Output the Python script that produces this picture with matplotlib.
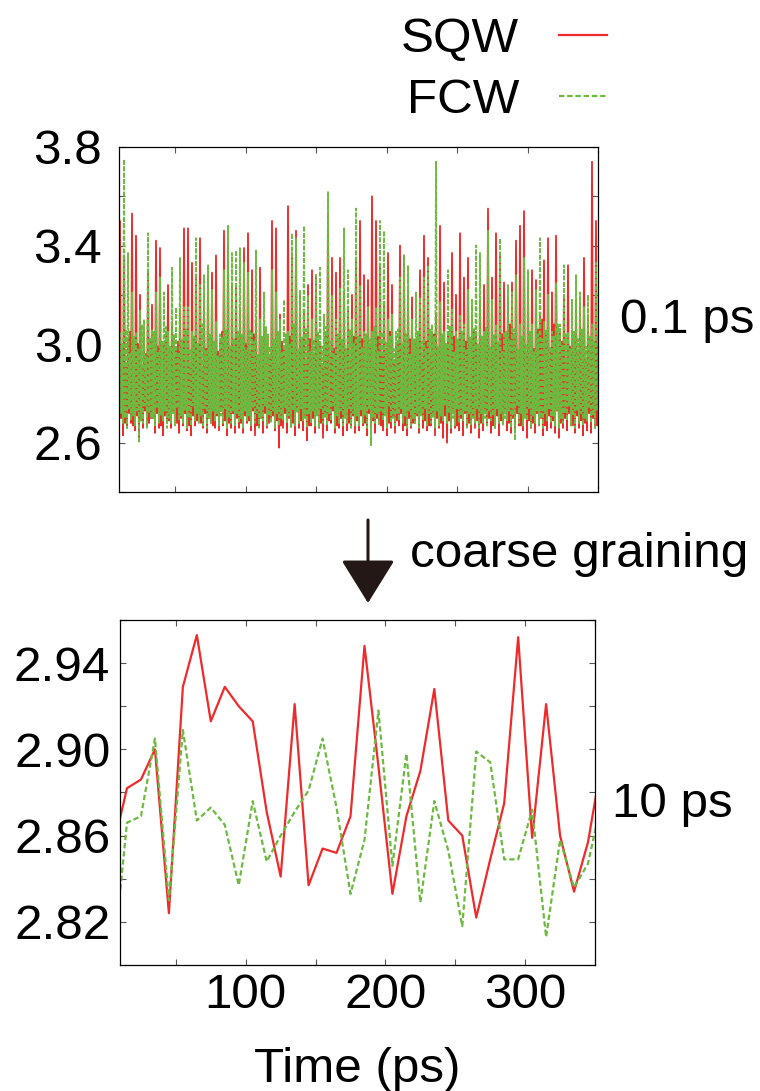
import matplotlib
matplotlib.use("Agg")
import matplotlib.pyplot as plt
import numpy as np
from matplotlib.ticker import MultipleLocator, FixedLocator, NullFormatter

plt.rcParams["font.family"] = ["Liberation Sans", "DejaVu Sans"]

RED = "#ee2a2a"
GREEN = "#6cba3f"
FS = 35.6

# ---- top panel: 0.1 ps data, read slot by slot (~2.8 ps per slot):
# dip, spike top, second dip, band top
red_hi = [3.50, 3.36, 3.02, 3.53, 3.44, 3.20, 3.06, 3.30, 3.16, 3.42, 3.39, 3.00, 3.24, 3.09, 2.98,
          3.14, 3.47, 3.47, 3.33, 3.28, 3.43, 3.21, 3.28, 3.29, 3.36, 3.02, 3.46, 3.40, 3.24, 3.24,
          3.14, 3.39, 3.45, 3.30, 3.10, 3.31, 3.07, 2.99, 3.50, 3.47, 3.12, 2.98, 3.56, 3.37, 3.46,
          3.21, 3.14, 3.24, 3.30, 3.28, 3.00, 2.98, 3.53, 3.35, 3.29, 3.35, 3.21, 3.14, 3.20, 3.35,
          3.50, 3.28, 3.26, 3.60, 3.50, 3.31, 3.17, 3.37, 3.24, 3.00, 3.40, 3.36, 3.22, 3.19, 3.02,
          3.30, 3.44, 3.35, 3.05, 3.12, 3.48, 3.25, 3.05, 3.37, 3.20, 3.45, 3.27, 3.35, 3.12, 3.05,
          3.18, 3.24, 3.55, 3.27, 3.45, 3.37, 3.25, 3.18, 3.25, 3.42, 3.48, 3.54, 3.25, 3.30, 3.26,
          3.12, 3.34, 3.43, 3.21, 3.44, 3.05, 3.20, 3.32, 3.05, 3.17, 3.17, 3.35, 3.10, 3.74, 3.50]
red_lo = [2.64, 2.63, 2.66, 2.68, 2.65, 2.62, 2.66, 2.67, 2.70, 2.64, 2.66, 2.63, 2.68, 2.66, 2.69,
          2.64, 2.67, 2.65, 2.63, 2.67, 2.70, 2.66, 2.64, 2.68, 2.66, 2.65, 2.67, 2.63, 2.66, 2.64,
          2.66, 2.64, 2.68, 2.65, 2.63, 2.67, 2.64, 2.66, 2.69, 2.65, 2.58, 2.66, 2.64, 2.67, 2.63,
          2.66, 2.65, 2.61, 2.67, 2.64, 2.66, 2.62, 2.65, 2.68, 2.64, 2.66, 2.63, 2.65, 2.67, 2.64,
          2.65, 2.67, 2.63, 2.66, 2.64, 2.68, 2.65, 2.63, 2.66, 2.64, 2.67, 2.65, 2.63, 2.66, 2.68,
          2.64, 2.66, 2.65, 2.67, 2.63, 2.66, 2.62, 2.60, 2.64, 2.66, 2.65, 2.63, 2.67, 2.64, 2.66,
          2.62, 2.65, 2.67, 2.64, 2.66, 2.63, 2.68, 2.65, 2.64, 2.66, 2.67, 2.65, 2.62, 2.66, 2.64,
          2.67, 2.63, 2.65, 2.66, 2.64, 2.62, 2.66, 2.65, 2.67, 2.64, 2.66, 2.63, 2.65, 2.64, 2.66]
red_lo2 = [2.70, 2.68, 2.72, 2.67, 2.71, 2.69, 2.73, 2.68, 2.70, 2.72, 2.67, 2.71, 2.69, 2.73, 2.68,
           2.70, 2.72, 2.67, 2.71, 2.69, 2.68, 2.72, 2.70, 2.67, 2.71, 2.73, 2.69, 2.68, 2.72, 2.70,
           2.68, 2.71, 2.69, 2.73, 2.67, 2.70, 2.72, 2.68, 2.71, 2.69, 2.67, 2.72, 2.70, 2.68, 2.73,
           2.69, 2.71, 2.67, 2.70, 2.72, 2.68, 2.71, 2.69, 2.73, 2.67, 2.70, 2.72, 2.68, 2.71, 2.69,
           2.71, 2.68, 2.72, 2.69, 2.70, 2.67, 2.73, 2.68, 2.71, 2.69, 2.72, 2.67, 2.70, 2.68, 2.71,
           2.73, 2.69, 2.67, 2.72, 2.70, 2.68, 2.71, 2.69, 2.73, 2.67, 2.70, 2.72, 2.68, 2.71, 2.69,
           2.68, 2.72, 2.70, 2.67, 2.71, 2.69, 2.73, 2.68, 2.70, 2.72, 2.67, 2.71, 2.69, 2.68, 2.72,
           2.70, 2.67, 2.71, 2.69, 2.73, 2.68, 2.70, 2.72, 2.67, 2.71, 2.69, 2.68, 2.72, 2.70, 2.67]
red_mid = [2.98, 2.92, 3.05, 2.95, 3.00, 2.90, 2.96, 3.02, 2.94, 2.99, 2.91, 3.04, 2.97, 2.93, 3.01,
           2.95, 2.99, 2.92, 3.03, 2.96, 2.90, 2.98, 3.02, 2.94, 2.97, 3.05, 2.93, 2.99, 2.95, 3.01,
           2.93, 3.00, 2.96, 3.04, 2.91, 2.98, 3.02, 2.94, 2.99, 2.92, 3.01, 2.95, 3.03, 2.97, 2.90,
           2.99, 2.93, 3.02, 2.96, 3.00, 2.92, 3.04, 2.95, 2.98, 2.91, 3.01, 2.97, 2.94, 3.03, 2.96,
           3.02, 2.94, 2.99, 2.91, 3.03, 2.96, 2.98, 3.05, 2.93, 3.00, 2.95, 2.92, 3.02, 2.97, 2.99,
           2.94, 3.01, 2.96, 3.04, 2.92, 2.98, 3.00, 2.95, 3.03, 2.93, 2.97, 3.01, 2.94, 3.06, 2.99,
           2.96, 3.02, 2.93, 2.99, 2.95, 3.04, 2.97, 3.08, 3.02, 2.94, 3.00, 2.96, 3.03, 2.98, 3.06,
           3.10, 3.04, 2.97, 3.08, 2.95, 3.01, 2.93, 2.99, 3.02, 2.96, 3.00, 2.94, 3.03, 2.97, 3.00]
green_hi = [3.05, 3.75, 3.37, 3.21, 3.05, 3.14, 3.10, 3.45, 3.06, 3.21, 3.27, 3.21, 3.05, 3.31, 3.15,
            3.35, 3.15, 3.15, 3.05, 3.43, 3.24, 3.28, 3.32, 3.22, 3.09, 3.04, 3.30, 3.48, 3.37, 3.38,
            3.39, 3.33, 3.29, 3.05, 3.38, 3.10, 3.21, 3.04, 3.30, 3.21, 3.10, 3.18, 3.05, 3.45, 3.43,
            3.22, 3.48, 3.20, 3.10, 3.28, 3.31, 3.12, 3.62, 3.20, 3.10, 3.23, 3.47, 3.30, 3.10, 3.55,
            3.24, 3.05, 3.15, 3.05, 3.15, 3.50, 3.46, 3.10, 3.12, 3.05, 3.27, 3.36, 3.32, 3.10, 3.21,
            3.19, 3.27, 3.32, 3.08, 3.74, 3.17, 3.05, 3.30, 3.14, 3.05, 3.12, 3.08, 3.22, 3.18, 3.40,
            3.37, 3.05, 3.46, 3.18, 3.08, 3.43, 3.05, 3.24, 3.21, 3.28, 3.08, 3.35, 3.30, 3.08, 3.22,
            3.43, 3.09, 3.20, 3.05, 3.25, 3.08, 3.32, 3.05, 3.18, 3.28, 3.21, 3.15, 3.20, 3.08, 3.33]
green_lo = [2.67, 2.68, 2.66, 2.69, 2.67, 2.60, 2.68, 2.66, 2.70, 2.67, 2.68, 2.69, 2.66, 2.68, 2.67,
            2.69, 2.68, 2.66, 2.67, 2.69, 2.68, 2.67, 2.66, 2.68, 2.69, 2.67, 2.68, 2.66, 2.68, 2.67,
            2.68, 2.66, 2.69, 2.67, 2.68, 2.66, 2.69, 2.67, 2.68, 2.66, 2.67, 2.69, 2.68, 2.66, 2.67,
            2.68, 2.69, 2.66, 2.68, 2.67, 2.66, 2.68, 2.67, 2.69, 2.66, 2.68, 2.67, 2.68, 2.66, 2.67,
            2.67, 2.68, 2.66, 2.59, 2.68, 2.67, 2.69, 2.66, 2.68, 2.67, 2.69, 2.68, 2.66, 2.67, 2.68,
            2.66, 2.69, 2.67, 2.68, 2.66, 2.67, 2.69, 2.68, 2.66, 2.67, 2.68, 2.69, 2.66, 2.67, 2.68,
            2.66, 2.68, 2.67, 2.69, 2.66, 2.68, 2.67, 2.69, 2.66, 2.61, 2.68, 2.67, 2.69, 2.66, 2.68,
            2.67, 2.66, 2.69, 2.68, 2.67, 2.66, 2.68, 2.69, 2.67, 2.66, 2.68, 2.67, 2.69, 2.68, 2.66]
green_lo2 = [2.72, 2.70, 2.74, 2.71, 2.73, 2.69, 2.75, 2.72, 2.70, 2.74, 2.71, 2.73, 2.70, 2.72, 2.74,
             2.71, 2.73, 2.70, 2.75, 2.72, 2.71, 2.74, 2.70, 2.73, 2.72, 2.71, 2.74, 2.70, 2.73, 2.72,
             2.70, 2.73, 2.71, 2.74, 2.72, 2.70, 2.75, 2.71, 2.73, 2.72, 2.70, 2.74, 2.71, 2.73, 2.72,
             2.74, 2.70, 2.72, 2.73, 2.71, 2.74, 2.70, 2.72, 2.75, 2.71, 2.73, 2.70, 2.74, 2.72, 2.71,
             2.73, 2.71, 2.74, 2.70, 2.72, 2.73, 2.71, 2.75, 2.70, 2.72, 2.74, 2.71, 2.73, 2.70, 2.72,
             2.71, 2.74, 2.72, 2.70, 2.73, 2.71, 2.75, 2.72, 2.70, 2.74, 2.71, 2.73, 2.72, 2.70, 2.74,
             2.72, 2.70, 2.73, 2.71, 2.74, 2.72, 2.70, 2.73, 2.71, 2.75, 2.72, 2.70, 2.74, 2.71, 2.73,
             2.70, 2.72, 2.74, 2.71, 2.73, 2.70, 2.72, 2.75, 2.71, 2.73, 2.72, 2.70, 2.74, 2.71, 2.73]
green_mid = [3.00, 3.06, 2.96, 3.03, 2.98, 3.08, 2.95, 3.02, 3.05, 2.97, 3.01, 3.07, 2.99, 3.04, 2.96,
             3.02, 3.06, 2.98, 3.03, 3.00, 3.08, 2.97, 3.04, 3.01, 2.95, 3.03, 3.06, 2.99, 3.02, 3.05,
             3.04, 2.98, 3.06, 3.01, 2.96, 3.03, 3.07, 2.99, 3.02, 3.05, 2.97, 3.04, 3.00, 3.08, 2.98,
             3.03, 3.06, 2.97, 3.02, 3.05, 2.99, 3.07, 3.01, 2.96, 3.04, 3.02, 2.98, 3.06, 3.00, 3.03,
             2.99, 3.04, 3.02, 3.07, 2.97, 3.05, 3.01, 3.03, 2.98, 3.06, 3.00, 3.04, 2.96, 3.02, 3.05,
             3.01, 2.98, 3.06, 3.03, 2.99, 3.04, 3.00, 3.07, 2.97, 3.02, 3.05, 2.98, 3.03, 3.06, 3.00,
             3.03, 3.07, 2.99, 3.04, 3.01, 2.97, 3.05, 3.02, 3.06, 2.98, 3.03, 3.00, 3.05, 2.97, 3.04,
             3.02, 3.06, 2.99, 3.03, 3.08, 3.00, 3.04, 2.98, 3.05, 3.02, 3.06, 2.99, 3.03, 3.01, 3.05]

# ---- bottom panel: 10 ps block averages ----
t_cg = [5, 15, 25, 35, 45, 55, 65, 75, 85, 95, 105, 115, 125, 135, 145, 155, 165, 175,
        185, 195, 205, 215, 225, 235, 245, 255, 265, 275, 285, 295, 305, 315, 325, 335, 345, 355]
sqw_cg = [2.854, 2.882, 2.886, 2.900, 2.824, 2.929, 2.953, 2.913, 2.929, 2.920, 2.913, 2.871,
          2.841, 2.921, 2.837, 2.854, 2.852, 2.869, 2.948, 2.892, 2.833, 2.869, 2.890, 2.928,
          2.867, 2.860, 2.822, 2.849, 2.875, 2.952, 2.859, 2.921, 2.860, 2.834, 2.857, 2.895]
fcw_cg = [2.801, 2.866, 2.869, 2.905, 2.830, 2.909, 2.867, 2.873, 2.865, 2.837, 2.876, 2.848,
          2.860, 2.871, 2.881, 2.905, 2.873, 2.833, 2.858, 2.918, 2.846, 2.898, 2.829, 2.876,
          2.853, 2.818, 2.899, 2.894, 2.849, 2.849, 2.872, 2.813, 2.858, 2.836, 2.847, 2.877]

red_fine = np.column_stack([red_lo, red_hi, red_lo2, red_mid]).ravel()
green_fine = np.column_stack([green_lo, green_hi, green_lo2, green_mid]).ravel()
t_fine = np.linspace(10, 350, len(red_fine))

W, H = 760, 1091
fig = plt.figure(figsize=(W / 100, H / 100), dpi=100)
ax1 = fig.add_axes([119 / W, 1 - 492 / H, 479 / W, 345 / H])
ax2 = fig.add_axes([120 / W, 1 - 965 / H, 475 / W, 345 / H])

ax1.plot(t_fine, red_fine, color=RED, lw=1.3)
ax1.plot(t_fine, green_fine, color=GREEN, lw=1.3, dashes=(2.5, 1.0))
ax1.set_xlim(10, 350)
ax1.set_ylim(2.4, 3.8)
ax1.yaxis.set_major_locator(FixedLocator([2.6, 3.0, 3.4, 3.8]))
ax1.yaxis.set_minor_locator(MultipleLocator(0.2))
ax1.xaxis.set_major_locator(MultipleLocator(50))
ax1.xaxis.set_major_formatter(NullFormatter())
ax1.set_yticklabels(["2.6", "3.0", "3.4", "3.8"])

l_sqw, = ax2.plot(t_cg, sqw_cg, color=RED, lw=1.6)
l_fcw, = ax2.plot(t_cg, fcw_cg, color=GREEN, lw=1.6, dashes=(2.4, 1.3))
ax2.set_xlim(10, 350)
ax2.set_ylim(2.80, 2.96)
ax2.yaxis.set_major_locator(FixedLocator([2.82, 2.86, 2.90, 2.94]))
ax2.yaxis.set_minor_locator(MultipleLocator(0.02))
ax2.set_yticklabels(["2.82", "2.86", "2.90", "2.94"])
ax2.xaxis.set_major_locator(FixedLocator([100, 200, 300]))
ax2.xaxis.set_minor_locator(MultipleLocator(50))
ax2.set_xlabel("Time (ps)", fontsize=FS, labelpad=21)

for ax in (ax1, ax2):
    for s in ax.spines.values():
        s.set_linewidth(0.9)
    ax.tick_params(which="both", direction="in", top=True, right=True,
                   length=4, width=0.8, color="#555555", labelsize=FS)
    ax.tick_params(axis="y", which="major", pad=12 if ax is ax1 else 7)
    ax.tick_params(axis="x", which="major", pad=6)

fig.legend([l_sqw, l_fcw], ["SQW", "FCW"], loc="upper right",
           bbox_to_anchor=(607 / W, 1 - 17 / H), frameon=False, fontsize=FS,
           markerfirst=False, handlelength=0.98, handletextpad=0.8,
           labelspacing=0.33, borderpad=0, borderaxespad=0, alignment="right")

fig.text(620 / W, 1 - 333 / H, "0.1 ps", fontsize=FS, va="baseline", ha="left")
fig.text(612 / W, 1 - 817 / H, "10 ps", fontsize=FS, va="baseline", ha="left")
fig.text(410 / W, 1 - 567 / H, "coarse graining", fontsize=FS, va="baseline", ha="left")

ax2.annotate("", xy=(368, H - 603), xytext=(368, H - 520), xycoords="figure pixels",
             textcoords="figure pixels",
             arrowprops=dict(arrowstyle="-|>,head_length=1.37,head_width=0.85",
                             mutation_scale=20, lw=2.2, color="#231815",
                             shrinkA=0, shrinkB=0))

fig.savefig("out.png", dpi=100)
